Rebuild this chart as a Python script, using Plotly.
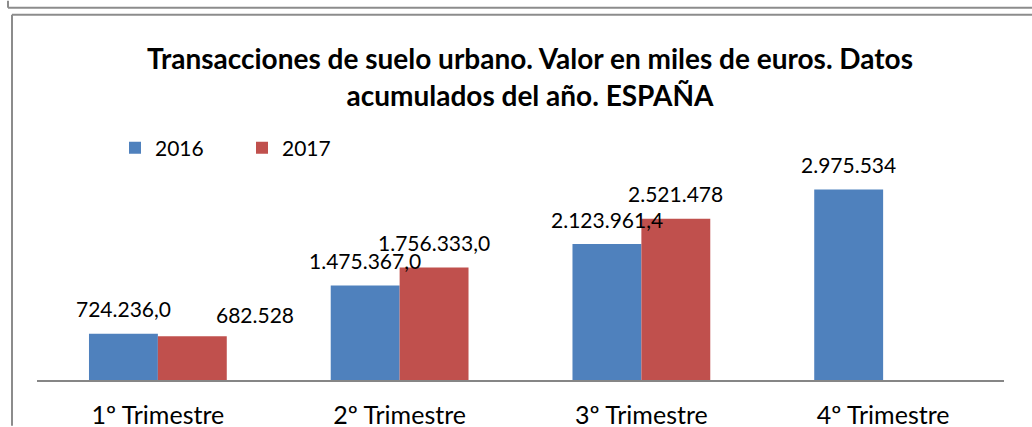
import plotly.graph_objects as go

categories = ["1º Trimestre", "2º Trimestre", "3º Trimestre", "4º Trimestre"]
values_2016 = [724236.0, 1475367.0, 2123961.4, 2975534]
values_2017 = [682528, 1756333.0, 2521478]
labels_2016 = ["724.236,0", "1.475.367,0", "2.123.961,4", "2.975.534"]
labels_2017 = ["682.528", "1.756.333,0", "2.521.478"]
series_names = ["2016", "2017"]

W, H = 1032, 427          # intended rendered size
H_LAYOUT = H + 14         # the page renders the figure ~14px shorter than asked
ML, MR, MT, MB = 37, 28, 156, 46
PW = W - ML - MR
PH = H - MT - MB
BARGAP = 0.43
BLUE = "#4F81BD"
RED = "#C0504D"
FONT = "Lato"
FRAME = "#8C8C8C"

def px_x(p):
    return (p - ML) / PW

def px_y(p):
    return (H - MB - p) / PH

fig = go.Figure()
fig.add_trace(go.Bar(name=series_names[0], x=categories, y=values_2016,
                     marker=dict(color=BLUE, line=dict(width=0)), hoverinfo="x+y"))
fig.add_trace(go.Bar(name=series_names[1], x=categories[:len(values_2017)], y=values_2017,
                     marker=dict(color=RED, line=dict(width=0)), hoverinfo="x+y"))

half = PW / len(categories) * (1 - BARGAP) / 4
extra_dx_2017 = [63, 0, 0]
ann = []
for c, v, t in zip(categories, values_2016, labels_2016):
    ann.append(dict(x=c, y=v, xref="x", yref="y", text=t, showarrow=False,
                    xshift=-half, yshift=25, yanchor="middle",
                    font=dict(family=FONT, size=21, color="#000000")))
for c, v, t, dx in zip(categories, values_2017, labels_2017, extra_dx_2017):
    ann.append(dict(x=c, y=v, xref="x", yref="y", text=t, showarrow=False,
                    xshift=half + dx, yshift=25 if dx == 0 else 22, yanchor="middle",
                    font=dict(family=FONT, size=21, color="#000000")))

def hline(x0, x1, y):
    return dict(type="line", xref="paper", yref="paper", x0=px_x(x0), x1=px_x(x1),
                y0=px_y(y), y1=px_y(y), line=dict(color=FRAME, width=2))

def vline(x, y0, y1):
    return dict(type="line", xref="paper", yref="paper", x0=px_x(x), x1=px_x(x),
                y0=px_y(y0), y1=px_y(y1), line=dict(color=FRAME, width=2))

shapes = [
    vline(8, 0, 7), hline(8, 1032, 7),      # upper box edges
    vline(12, 14, 427), hline(12, 1032, 14),  # chart frame
]

fig.update_layout(
    width=W, height=H_LAYOUT,
    margin=dict(l=ML, r=MR, t=MT, b=MB),
    paper_bgcolor="white", plot_bgcolor="white",
    barmode="group", bargap=BARGAP, bargroupgap=0,
    title=dict(text="<b>Transacciones de suelo urbano. Valor en miles de euros. Datos<br>acumulados del año. ESPAÑA</b>",
               x=530 / W, xanchor="center", xref="container",
               y=1 - 67 / H, yanchor="top", yref="container",
               font=dict(family=FONT, size=28, color="#000000")),
    font=dict(family=FONT, size=21, color="#000000"),
    showlegend=True,
    legend=dict(orientation="h", x=px_x(115), xanchor="left", y=px_y(148), yanchor="middle",
                font=dict(family=FONT, size=21, color="#000000"),
                entrywidth=82, entrywidthmode="pixels", bgcolor="rgba(0,0,0,0)"),
    xaxis=dict(showline=True, linecolor="#868686", linewidth=2, showgrid=False, zeroline=False,
               ticks="", tickfont=dict(family=FONT, size=25, color="#000000"), ticklabelstandoff=12),
    yaxis=dict(range=[0, 3500000], visible=False, showgrid=False, zeroline=False),
    annotations=ann,
    shapes=shapes,
)

fig.write_html("out.html", config={"displayModeBar": False},
               post_script="document.body.style.margin='0';document.body.style.overflow='hidden';")
